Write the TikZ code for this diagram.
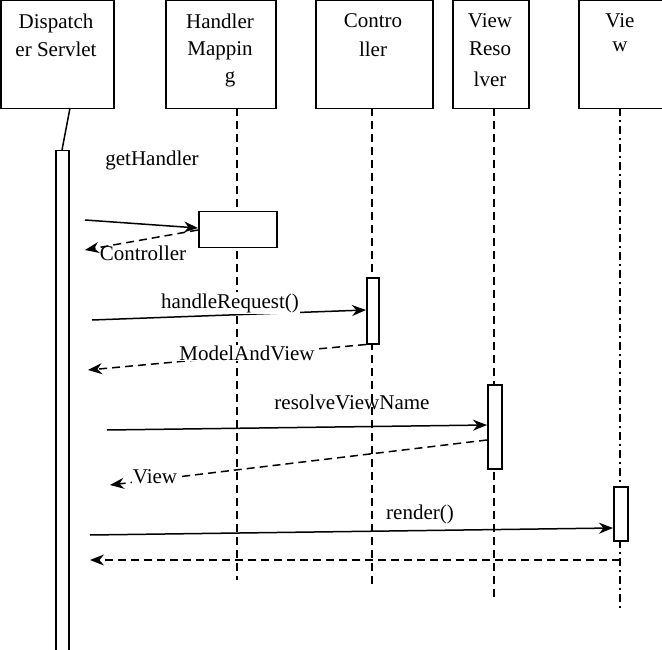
\documentclass[tikz,border=0pt]{standalone}
\usepackage{fontspec}
\setmainfont{Liberation Serif}
\usetikzlibrary{positioning,arrows.meta}
\begin{document}
\begin{tikzpicture}[x=1pt,y=-1pt,inner sep=1pt,line width=1.5pt,
  box/.style={draw,minimum height=108pt,anchor=north west},
  act/.style={draw,fill=white,anchor=north west},
  dsh/.style={dash pattern=on 8pt off 5pt},
  msg/.style={-{Stealth[length=14pt,width=11pt]}},
  ret/.style={dsh,-{Stealth[length=14pt,width=11pt]}},
  lbl/.style={font=\fontsize{21}{24}\selectfont,fill=white},
  tl/.style={lbl,fill=none,anchor=north}]

\useasboundingbox (0,0) rectangle (662,650);

 % object boxes
 \node[box,minimum width=113pt] (DS) at (0,0) {};
 \node[box,minimum width=110pt] (HM) at (165,0) {};
 \node[box,minimum width=117pt] (CT) at (315,0) {};
 \node[box,minimum width=76pt] (VR) at (452,0) {};
 \node[box,minimum width=84pt] (VW) at (578,0) {};
 \node[tl] at (56,12) {Dispatch};
 \node[tl] at (56,40) {er Servlet};
 \node[tl] at (220,12) {Handler};
 \node[tl] at (220,40) {Mappin};
 \node[tl] at (230,70) {g};
 \node[tl] at (373,12) {Contro};
 \node[tl] at (373,40) {ller};
 \node[tl] at (490,12) {View};
 \node[tl] at (490,40) {Reso};
 \node[tl] at (490,70) {lver};
 \node[tl] at (620,12) {Vie};
 \node[tl] at (620,40) {w};

 % lifelines
 \coordinate (hmE) at (237,580);
 \coordinate (ctE) at (372,585);
 \coordinate (vrE) at (494,600);
 \coordinate (vwE) at (620,610);
 \draw (70,108) -- (62,150);
 \draw[dsh] (237,108) -- (hmE);
 \draw[dsh] (372,108) -- (ctE);
 \draw[dsh] (494,108) -- (vrE);
 \draw[dash pattern=on 8pt off 4pt on 2pt off 4pt] (620,108) -- (vwE);

 % activations
 \node[act,minimum width=13pt,minimum height=500pt] (aDS) at (55,150) {};
 \node[act,minimum width=78pt,minimum height=36pt] (aHM) at (198,211) {};
 \node[act,minimum width=12pt,minimum height=66pt] (aCT) at (366,277) {};
 \node[act,minimum width=14pt,minimum height=84pt] (aVR) at (487,384) {};
 \node[act,minimum width=14pt,minimum height=54pt] (aVW) at (613,486) {};

 % messages
 \coordinate (m1) at (85,220);
 \coordinate (r1) at (85,250);
 \coordinate (m2) at (92,320);
 \coordinate (r2) at (88,370);
 \coordinate (m3) at (107,430);
 \coordinate (r3) at (110,485);
 \coordinate (m4) at (90,535);
 \coordinate (r4) at (90,560);

 \draw[msg] (m1) -- (aHM.west |- 0,228);
 \draw[ret] (aHM.west |- 0,230) -- (r1);
 \draw[msg] (m2) -- (aCT.west |- 0,310);
 \draw[ret] (aCT.south west) -- (r2);
 \draw[msg] (m3) -- (aVR.west |- 0,425);
 \draw[ret] (aVR.west |- 0,440) -- (r3);
 \draw[msg] (m4) -- (aVW.west |- 0,528);
 \draw[ret] (vwE |- r4) -- (r4);

 \node[lbl,fill=none] at (152,160) {getHandler};
 \node[lbl,fill=none] at (143,253) {Controller};
 \node[lbl] at (230,303) {handleRequest()};
 \node[lbl] at (247,353) {ModelAndView};
 \node[lbl,fill=none] at (352,402) {resolveViewName};
 \node[lbl] at (155,477) {View};
 \node[lbl] at (420,514) {render()};

\end{tikzpicture}
\end{document}
